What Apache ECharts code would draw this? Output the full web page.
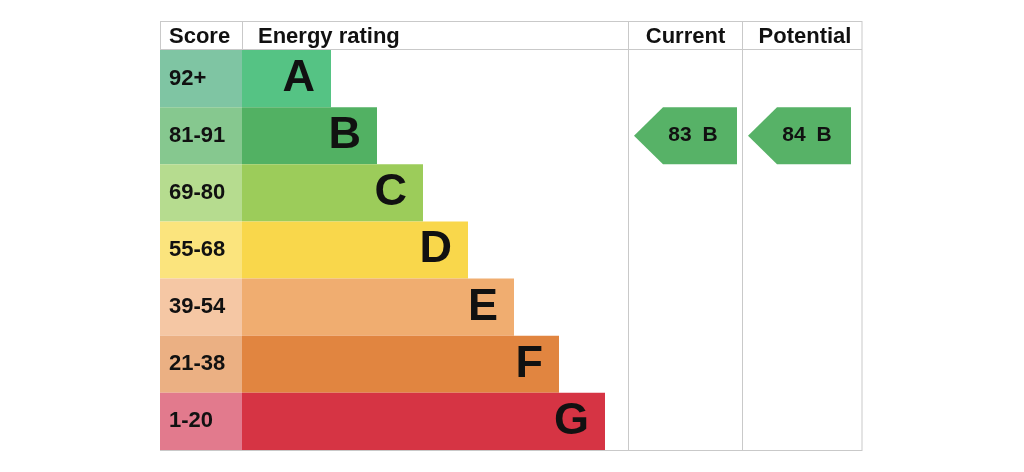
<!DOCTYPE html>
<html>
<head>
<meta charset="utf-8">
<script src="https://cdn.jsdelivr.net/npm/echarts@6/dist/echarts.min.js"></script>
<style>
html,body{margin:0;padding:0;background:#fff;}
#chart{width:1024px;height:472px;}
</style>
</head>
<body>
<div id="chart"></div>
<script>
// ---- data ----
const bands = ['A', 'B', 'C', 'D', 'E', 'F', 'G'];
const scoreRanges = ['92+', '81-91', '69-80', '55-68', '39-54', '21-38', '1-20'];
const bandMinScores = [92, 81, 69, 55, 39, 21, 1];
const barLengths = [89, 135, 181, 226, 272, 317, 363];
const headers = ['Score', 'Energy rating', 'Current', 'Potential'];
const currentScore = 83;
const potentialScore = 84;

// ---- styles ----
const barColors = ['#55c384', '#52b163', '#9ccc5a', '#f9d74b', '#f0ad70', '#e18540', '#d63444'];
const scoreColors = ['#7fc5a3', '#86c88f', '#b6dc8f', '#fbe47d', '#f5c7a4', '#ebb083', '#e27a8d'];
const FONT = "'Liberation Sans', Arial, Helvetica, sans-serif";
const TXT = '#111';
const LINE = '#c9c9c9';

function bandOf(score) {
  for (let i = 0; i < bandMinScores.length; i++) {
    if (score >= bandMinScores[i]) return bands[i];
  }
  return bands[bands.length - 1];
}

const chart = echarts.init(document.getElementById('chart'));

const TOP = 50, H = 400;
const grids = [
  { left: 160, top: TOP, width: 82, height: H },
  { left: 242, top: TOP, width: 386, height: H },
  { left: 628.5, top: TOP, width: 114, height: H },
  { left: 742.5, top: TOP, width: 119.5, height: H }
];

const xAxes = [
  { gridIndex: 0, type: 'value', min: 0, max: 1, show: false },
  { gridIndex: 1, type: 'value', min: 0, max: 386, show: false },
  { gridIndex: 2, type: 'value', min: 0, max: 1, show: false },
  { gridIndex: 3, type: 'value', min: 0, max: 1, show: false }
];
const yAxes = [0, 1, 2, 3].map(i => ({
  gridIndex: i, type: 'category', data: bands, inverse: true, show: false
}));

function arrowSeries(gridIdx, score) {
  return {
    type: 'custom',
    xAxisIndex: gridIdx,
    yAxisIndex: gridIdx,
    encode: { x: 0, y: 1 },
    data: [[0, bandOf(score), score]],
    renderItem: function (params, api) {
      const c = api.coord([0, api.value(1)]);
      const h = api.size([0, 1])[1];
      const x0 = c[0] + 5.5, xb = c[0] + 34.5, x1 = c[0] + 108.5;
      const yt = c[1] - h / 2, yb = c[1] + h / 2, ym = c[1];
      return {
        type: 'group',
        children: [
          {
            type: 'polygon',
            shape: { points: [[x0, ym], [xb, yt], [x1, yt], [x1, yb], [xb, yb]] },
            style: { fill: '#57b267' }
          },
          {
            type: 'text',
            style: {
              text: String(api.value(2)), x: c[0] + 51.5, y: ym - 1,
              align: 'center', verticalAlign: 'middle',
              font: 'bold 21px ' + FONT, fill: TXT
            }
          },
          {
            type: 'text',
            style: {
              text: bandOf(api.value(2)), x: c[0] + 81.5, y: ym - 1,
              align: 'center', verticalAlign: 'middle',
              font: 'bold 21px ' + FONT, fill: TXT
            }
          }
        ]
      };
    }
  };
}

function hLine(x1, x2, y) {
  return { type: 'line', silent: true, shape: { x1: x1, y1: y, x2: x2, y2: y }, style: { stroke: LINE, lineWidth: 1 } };
}
function vLine(x, y1, y2) {
  return { type: 'line', silent: true, shape: { x1: x, y1: y1, x2: x, y2: y2 }, style: { stroke: LINE, lineWidth: 1 } };
}
function headText(text, x, align) {
  return {
    type: 'text', silent: true,
    style: { text: text, x: x, y: 37, align: align, verticalAlign: 'middle', font: 'bold 22px ' + FONT, fill: TXT }
  };
}

const option = {
  animation: false,
  grid: grids,
  xAxis: xAxes,
  yAxis: yAxes,
  series: [
    {
      type: 'bar',
      xAxisIndex: 0, yAxisIndex: 0,
      barWidth: '100%',
      data: scoreRanges.map((s, i) => ({ value: 1, name: s, itemStyle: { color: scoreColors[i] } })),
      label: {
        show: true, position: 'insideLeft', distance: 9,
        formatter: p => p.name,
        fontFamily: FONT, fontWeight: 'bold', fontSize: 22, color: TXT
      }
    },
    {
      type: 'bar',
      xAxisIndex: 1, yAxisIndex: 1,
      barWidth: '100%',
      data: barLengths.map((v, i) => ({ value: v, name: bands[i], itemStyle: { color: barColors[i] } })),
      label: {
        show: true, position: 'insideRight', distance: 16,
        formatter: p => p.name,
        fontFamily: FONT, fontWeight: 'bold', fontSize: 45, color: TXT
      }
    },
    arrowSeries(2, currentScore),
    arrowSeries(3, potentialScore)
  ],
  graphic: [
    hLine(160, 862, 21.5),
    hLine(160, 862, 49.5),
    hLine(160, 862, 450.5),
    vLine(160.5, 21, 50),
    vLine(242.5, 21, 50),
    vLine(628.5, 21, 451),
    vLine(742.5, 21, 451),
    vLine(862, 21, 451),
    headText(headers[0], 169, 'left'),
    headText(headers[1], 258, 'left'),
    headText(headers[2], 685.5, 'center'),
    headText(headers[3], 805, 'center')
  ]
};

chart.setOption(option);
</script>
</body>
</html>
